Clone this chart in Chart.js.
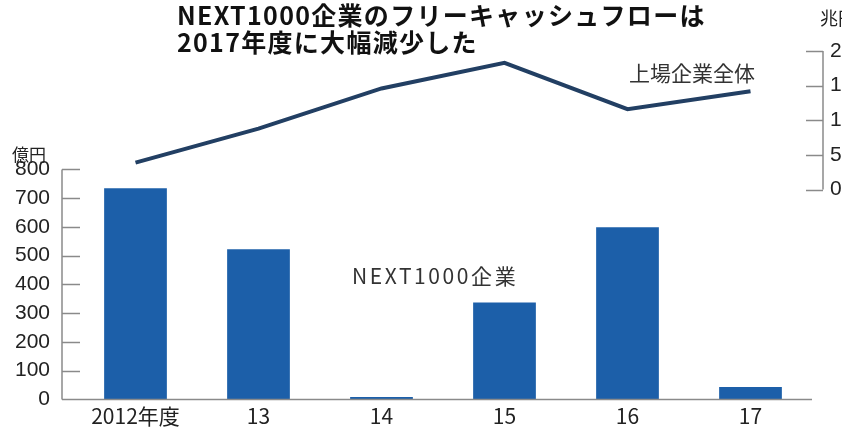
<!DOCTYPE html>
<html lang="ja">
<head>
<meta charset="utf-8">
<script src="https://cdn.jsdelivr.net/npm/chart.js@4.4.1/dist/chart.umd.min.js"></script>
<style>
  body{ margin:0; background:#fff; }
  #wrap{ position:relative; width:842px; height:432px; overflow:hidden; font-family:"Noto Sans CJK JP","Noto Sans",sans-serif; color:#222; }
  #wrap canvas{ position:absolute; left:0; top:4px; }
  .lbl{ position:absolute; white-space:nowrap; line-height:1; }
  #title{ left:177px; top:1px; font-size:25px; font-weight:bold; line-height:27px; letter-spacing:1.3px; color:#111; }
  #unitL{ left:12px; top:145px; font-size:17px; }
  #unitR{ left:820px; top:8px; font-size:18px; }
  #lineName{ left:629px; top:62px; font-size:21px; color:#333; }
  #barName{ left:352px; top:265px; font-size:21px; color:#333; letter-spacing:2.6px; }
</style>
</head>
<body>
<div id="wrap">
  <canvas id="chart" width="842" height="432"></canvas>
  <div id="title" class="lbl">NEXT1000企業のフリーキャッシュフローは<br>2017年度に大幅減少した</div>
  <div id="unitL" class="lbl">億円</div>
  <div id="unitR" class="lbl">兆円</div>
  <div id="lineName" class="lbl">上場企業全体</div>
  <div id="barName" class="lbl">NEXT1000企業</div>
</div>
<script>
// Data
const years = ['2012年度','13','14','15','16','17'];
const next1000 = [735, 522, 8, 337, 599, 43];       // 億円
const allListed = [3.9, 8.8, 14.6, 18.3, 11.6, 14.2]; // 兆円
const yTicks = [0,100,200,300,400,500,600,700,800];
const y2Ticks = [0,5,10,15,20];

const AXIS = '#8a8a8a';

// draws the left axis, the baseline and the small right axis
const axesPlugin = {
  id:'axes',
  afterDraw(chart){
    const {ctx, chartArea:a} = chart;
    const y = chart.scales.y, y2 = chart.scales.y2;
    const lx = a.left - 12;
    ctx.save();
    ctx.strokeStyle = AXIS; ctx.lineWidth = 1.5;
    // left axis
    ctx.beginPath();
    ctx.moveTo(lx, y.getPixelForValue(yTicks[yTicks.length-1]));
    ctx.lineTo(lx, y.getPixelForValue(0));
    yTicks.forEach(v=>{
      const py = Math.round(y.getPixelForValue(v))+0.5;
      if(v===0) return;
      ctx.moveTo(lx, py); ctx.lineTo(lx+18, py);
    });
    // baseline
    const by = y.getPixelForValue(0);
    ctx.moveTo(lx, by); ctx.lineTo(a.right, by);
    ctx.stroke();

    // right axis
    const rx = 823;
    ctx.beginPath();
    ctx.moveTo(rx, y2.getPixelForValue(y2Ticks[y2Ticks.length-1]));
    ctx.lineTo(rx, y2.getPixelForValue(0));
    y2Ticks.forEach(v=>{
      const py = Math.round(y2.getPixelForValue(v))+0.5;
      ctx.moveTo(rx-17, py); ctx.lineTo(rx, py);
    });
    ctx.stroke();
    ctx.fillStyle = '#222';
    ctx.font = '21px "Liberation Sans", sans-serif';
    ctx.textBaseline = 'middle'; ctx.textAlign = 'left';
    y2Ticks.forEach(v=> ctx.fillText(String(v), rx+7, y2.getPixelForValue(v)));
    ctx.restore();
  }
};

new Chart(document.getElementById('chart'), {
  type:'bar',
  data:{
    labels: years,
    datasets:[
      { type:'line', label:'上場企業全体', data: allListed, yAxisID:'y2',
        borderColor:'#223f63', borderWidth:4, pointRadius:0, tension:0, order:0 },
      { type:'bar', label:'NEXT1000企業', data: next1000, yAxisID:'y',
        backgroundColor:'#1c5fa9', categoryPercentage:1, barPercentage:0.51, order:1 }
    ]
  },
  options:{
    responsive:false, animation:false,
    layout:{ padding:{ left:0, right:30, top:41, bottom:0 } },
    plugins:{ legend:{ display:false }, tooltip:{ enabled:false }, title:{ display:false } },
    scales:{
      x:{
        grid:{ display:false, drawTicks:false }, border:{ display:false },
        ticks:{ color:'#222', padding:4, font:{ family:'"Liberation Sans Narrow","Noto Sans CJK JP",sans-serif', size:21 }, maxRotation:0 },
        afterFit: s=>{ s.height = 30; }
      },
      y:{
        min:0, max:1233,
        grid:{ display:false, drawTicks:false }, border:{ display:false },
        afterBuildTicks: s=>{ s.ticks = yTicks.map(v=>({value:v})); },
        ticks:{ color:'#222', padding:24, font:{ family:'"Liberation Sans",sans-serif', size:21 } },
        afterFit: s=>{ s.width = 74; }
      },
      y2:{ display:false, min:-30.29, max:20.87 }
    }
  },
  plugins:[axesPlugin]
});
</script>
</body>
</html>
